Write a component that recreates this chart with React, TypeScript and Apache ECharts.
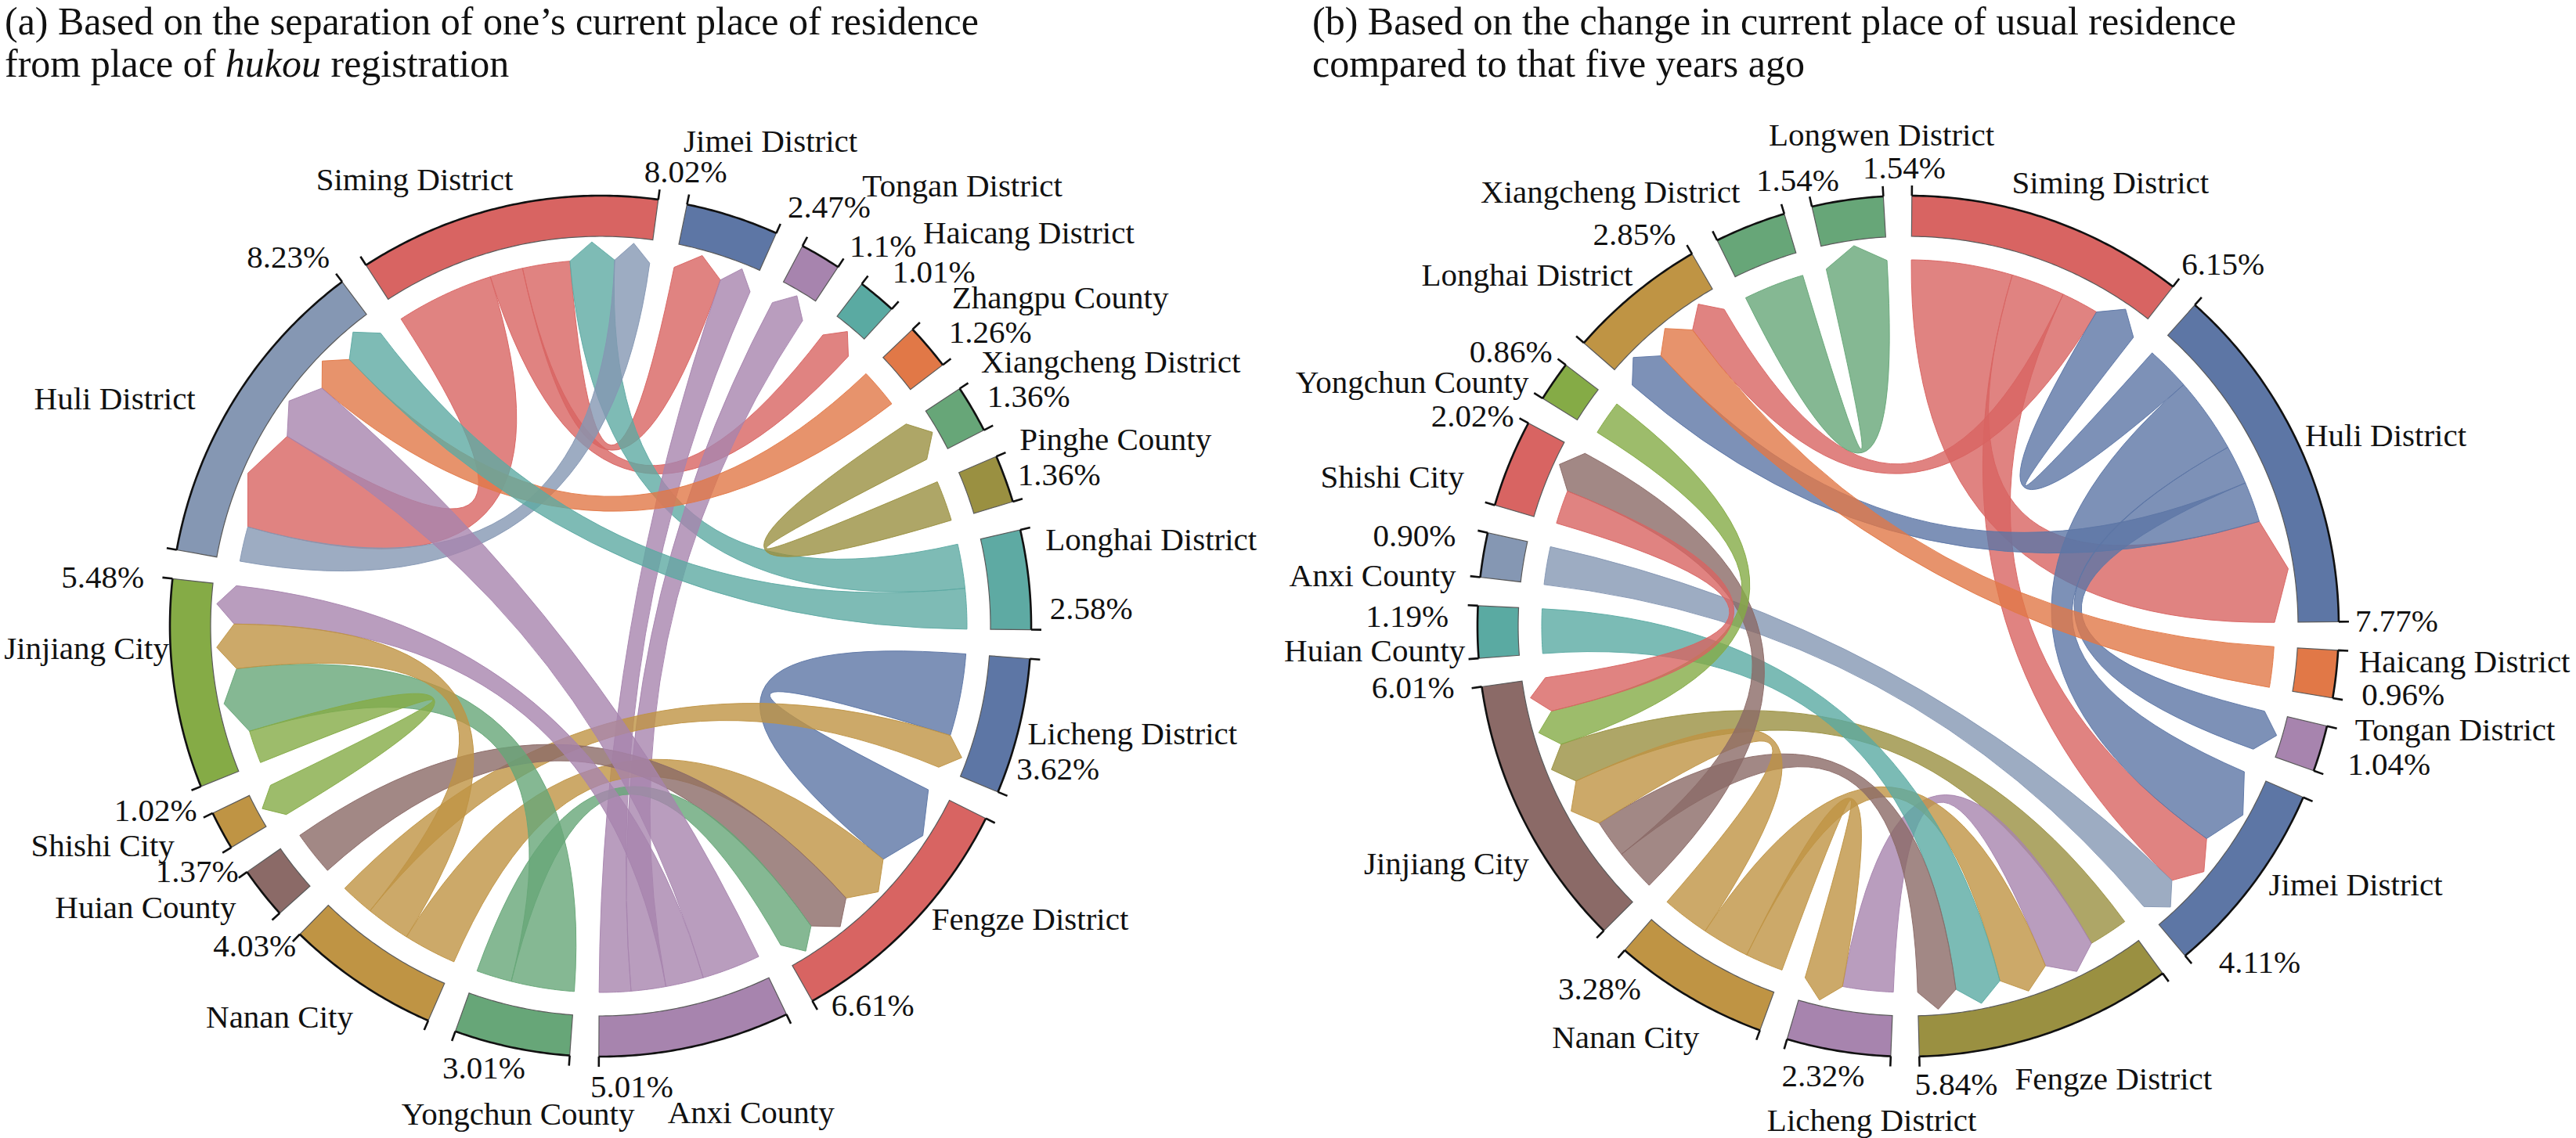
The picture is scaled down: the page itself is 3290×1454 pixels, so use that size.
import React, { useEffect, useRef } from "react";
import * as echarts from "echarts";

const FONT = "Liberation Serif, Times New Roman, Times, serif";

// ---------------- Panel (a) data ----------------
const A_TITLE = [
  "(a) Based on the separation of one\u2019s current place of residence",
  "from place of {i|hukou} registration",
];
const A_NODES = [
  "Siming District", "Jimei District", "Tongan District", "Haicang District", "Zhangpu County",
  "Xiangcheng District", "Pinghe County", "Longhai District", "Licheng District", "Fengze District",
  "Anxi County", "Yongchun County", "Nanan City", "Huian County", "Shishi City", "Jinjiang City", "Huli District",
];
const A_PCT = [
  "8.02%", "2.47%", "1.1%", "1.01%", "1.26%", "1.36%", "1.36%", "2.58%", "3.62%", "6.61%",
  "5.01%", "3.01%", "4.03%", "1.37%", "1.02%", "5.48%", "8.23%",
];
const A_COLORS = [
  "#d86462", "#5d76a5", "#a784ae", "#5aaaa2", "#e17847", "#67a678", "#9a9041", "#5eaaa3", "#5d76a5",
  "#d86462", "#a784ae", "#67a678", "#bf9444", "#8b6a67", "#bf9444", "#85ab46", "#8597b3",
];
// [source, target, value]
const A_LINKS = [
  [0, 16, 15.5], // 0 Siming -> Huli
  [0, 3, 5.2], // 1 Siming -> Haicang
  [0, 1, 7.5], // 2 Siming -> Jimei
  [7, 0, 7.0], // 3 Longhai -> Siming
  [16, 0, 5.5], // 4 Huli -> Siming
  [10, 1, 5.0], // 5 Anxi -> Jimei
  [10, 2, 5.5], // 6 Anxi -> Tongan
  [4, 16, 6.2], // 7 Zhangpu -> Huli
  [6, 5, 6.4], // 8 Pinghe -> Xiangcheng
  [7, 16, 6.4], // 9 Longhai -> Huli
  [8, 9, 13.0], // 10 Licheng -> Fengze
  [12, 8, 5.3], // 11 Nanan -> Licheng
  [12, 9, 8.4], // 12 Nanan -> Fengze
  [13, 9, 7.0], // 13 Huian -> Fengze
  [11, 9, 5.6], // 14 Yongchun -> Fengze
  [10, 16, 9.3], // 15 Anxi -> Huli
  [10, 15, 6.0], // 16 Anxi -> Jinjiang
  [11, 15, 10.0], // 17 Yongchun -> Jinjiang
  [12, 15, 7.0], // 18 Nanan -> Jinjiang
  [15, 14, 5.2], // 19 Jinjiang -> Shishi
];
// clockwise order of link ends around each node
const A_ORDER = [
  [0, 1, 2, 3, 4], [2, 5], [6], [1], [7], [8], [8], [3, 9], [10, 11], [10, 12, 13, 14],
  [15, 16, 6, 5], [17, 14], [12, 18, 11], [13], [19], [19, 17, 18, 16], [4, 0, 15, 7, 9],
];

// ---------------- Panel (b) data ----------------
const B_TITLE = [
  "(b) Based on the change in current place of usual residence",
  "compared to that five years ago",
];
const B_NODES = [
  "Siming District", "Huli District", "Haicang District", "Tongan District", "Jimei District",
  "Fengze District", "Licheng District", "Nanan City", "Jinjiang City", "Huian County", "Anxi County",
  "Shishi City", "Yongchun County", "Longhai District", "Xiangcheng District", "Longwen District",
];
const B_PCT = [
  "6.15%", "7.77%", "0.96%", "1.04%", "4.11%", "5.84%", "2.32%", "3.28%", "6.01%", "1.19%", "0.90%",
  "2.02%", "0.86%", "2.85%", "1.54%", "1.54%",
];
const B_COLORS = [
  "#d86462", "#5d76a5", "#e17847", "#a784ae", "#5d76a5", "#9a9041", "#a784ae", "#bf9444", "#8b6a67",
  "#5aaaa2", "#8597b3", "#d86462", "#85ab46", "#bf9444", "#67a678", "#67a678",
];
const B_LINKS = [
  [0, 1, 16.0], // 0 Siming -> Huli
  [0, 4, 8.5], // 1 Siming -> Jimei
  [0, 13, 5.9], // 2 Siming -> Longhai
  [1, 0, 7.0], // 3 Huli -> Siming
  [1, 4, 12.0], // 4 Huli -> Jimei
  [1, 3, 6.2], // 5 Huli -> Tongan
  [1, 13, 6.4], // 6 Huli -> Longhai
  [2, 13, 6.4], // 7 Haicang -> Longhai
  [10, 4, 6.0], // 8 Anxi -> Jimei
  [5, 8, 6.2], // 9 Fengze -> Jinjiang
  [6, 5, 8.0], // 10 Licheng -> Fengze
  [7, 5, 7.5], // 11 Nanan -> Fengze
  [9, 5, 7.0], // 12 Huian -> Fengze
  [8, 5, 6.0], // 13 Jinjiang -> Fengze
  [7, 6, 6.0], // 14 Nanan -> Licheng
  [7, 8, 7.5], // 15 Nanan -> Jinjiang
  [8, 11, 6.5], // 16 Jinjiang -> Shishi
  [12, 8, 5.4], // 17 Yongchun -> Jinjiang
  [11, 8, 5.3], // 18 Shishi -> Jinjiang
  [14, 15, 9.6], // 19 Xiangcheng -> Longwen
];
const B_ORDER = [
  [0, 1, 2, 3], [3, 4, 5, 6, 0], [7], [5], [4, 1, 8], [9, 10, 11, 12, 13], [10, 14], [14, 11, 15],
  [16, 13, 15, 9, 17, 18], [12], [8], [18, 16], [17], [6, 7, 2], [19], [19],
];

// ---------------- layout (positions, not data) ----------------
// [nameAngle, nameRadius, pctAngle, pctRadius]
const A_LABEL_POS = [
  [337.4, 618, 10.6, 591], [19.3, 657, 28.6, 610], [39.4, 728, 36.6, 605], [47.4, 743, 43.2, 622],
  [54.4, 722, 52.9, 624], [62.6, 734, 61.7, 621], [70, 700, 71.7, 617], [81, 712, 87.9, 627],
  [101.4, 693, 107.3, 612], [124.3, 664, 144.3, 596], [162.8, 650, 176.1, 589], [189.6, 632, 194.8, 583],
  [219.4, 646, 227.3, 601], [238.3, 683, 238.7, 603], [246.2, 695, 247.5, 615], [267.6, 657, 275.7, 639],
  [295.1, 685, 319.8, 618],
];
const B_LABEL_POS = [
  [24.5, 623, 41, 613], [68.2, 657, 89.4, 624], [93.6, 712, 97.8, 638], [100.7, 711, 106, 639],
  [120, 660, 133.7, 621], [155.6, 635, 174, 588], [184.2, 633, 190.7, 584], [214.5, 637, 220.4, 608],
  [242.8, 663, 263.0, 637], [267.4, 682, 271.2, 640], [275.4, 687, 280.4, 641], [286.2, 686, 295.8, 618],
  [296.2, 706, 304.7, 617], [312.7, 662, 325.1, 611], [325.6, 673, 346.1, 587], [356.9, 629, 359.5, 586],
];

const R_OUT = 550;
const R_IN = 498;
const R_LINK = 468;
const TIP = 23;
const TICK = 13;
const LABEL_SIZE = 41;
const TITLE_SIZE = 50;

function rgba(hex: string, a: number) {
  const h = hex.replace("#", "");
  const r = parseInt(h.slice(0, 2), 16);
  const g = parseInt(h.slice(2, 4), 16);
  const b = parseInt(h.slice(4, 6), 16);
  return `rgba(${r},${g},${b},${a})`;
}

function layoutChord(n: number, links: number[][], order: number[][], startDeg: number, gapDeg: number) {
  const totals = order.map((l) => l.reduce((s, li) => s + links[li][2], 0));
  const sum = totals.reduce((a, b) => a + b, 0);
  const k = (360 - n * gapDeg) / sum;
  const spans: number[][] = [];
  const src: number[][] = links.map(() => [0, 0]);
  const tgt: number[][] = links.map(() => [0, 0]);
  let a = startDeg;
  for (let i = 0; i < n; i++) {
    let cur = a;
    for (const li of order[i]) {
      const w = links[li][2] * k;
      if (links[li][0] === i) src[li] = [cur, cur + w];
      else tgt[li] = [cur, cur + w];
      cur += w;
    }
    spans.push([a, cur]);
    a = cur + gapDeg;
  }
  return { spans, src, tgt };
}

function pt(api: any, r: number, deg: number): number[] {
  const d = ((deg % 360) + 360) % 360;
  return api.coord([r, d]);
}
function f(p: number[]) {
  return p[0].toFixed(2) + " " + p[1].toFixed(2);
}
function arcPath(api: any, r: number, a0: number, a1: number, move: boolean) {
  const n = Math.max(2, Math.ceil(Math.abs(a1 - a0) / 0.5));
  let s = "";
  for (let j = 0; j <= n; j++) {
    const p = pt(api, r, a0 + ((a1 - a0) * j) / n);
    s += (j === 0 && move ? "M " : "L ") + f(p) + " ";
  }
  return s;
}

type Panel = {
  nodes: string[];
  pct: string[];
  colors: string[];
  links: number[][];
  order: number[][];
  labelPos: number[][];
  startDeg: number;
  gapDeg: number;
};

function panelSeries(p: Panel, polarIndex: number) {
  const lay = layoutChord(p.nodes.length, p.links, p.order, p.startDeg, p.gapDeg);
  const ribbons = {
    type: "custom",
    coordinateSystem: "polar",
    polarIndex,
    silent: true,
    z: 2,
    data: p.links.map((_, i) => [0, i]),
    renderItem: (params: any, api: any) => {
      const i = params.dataIndex;
      const [s0, s1] = lay.src[i];
      const [t0, t1] = lay.tgt[i];
      const col = p.colors[p.links[i][0]];
      const c = api.coord([0, 0]);
      let d = arcPath(api, R_LINK, s0, s1, true);
      d +=
        "Q " + f(c) + " " + f(pt(api, R_LINK, t0)) +
        " L " + f(pt(api, R_LINK + TIP, (t0 + t1) / 2)) +
        " L " + f(pt(api, R_LINK, t1)) +
        " Q " + f(c) + " " + f(pt(api, R_LINK, s0)) + " Z";
      return {
        type: "path",
        shape: { pathData: d },
        style: { fill: rgba(col, 0.8), stroke: rgba(col, 0.95), lineWidth: 1 },
      };
    },
  };
  const arcs = {
    type: "custom",
    coordinateSystem: "polar",
    polarIndex,
    silent: true,
    z: 3,
    data: p.nodes.map((_, i) => [R_OUT, i]),
    renderItem: (params: any, api: any) => {
      const i = params.dataIndex;
      const [a0, a1] = lay.spans[i];
      const sector = arcPath(api, R_OUT, a0, a1, true) + arcPath(api, R_IN, a1, a0, false) + "Z";
      const outer =
        arcPath(api, R_OUT, a0, a1, true) +
        "M " + f(pt(api, R_OUT, a0)) + " L " + f(pt(api, R_OUT + TICK, a0)) +
        " M " + f(pt(api, R_OUT, a1)) + " L " + f(pt(api, R_OUT + TICK, a1));
      return {
        type: "group",
        children: [
          { type: "path", shape: { pathData: sector }, style: { fill: p.colors[i], stroke: "#5a5a5a", lineWidth: 1.2 } },
          { type: "path", shape: { pathData: outer }, style: { fill: "none", stroke: "#111", lineWidth: 2.6 } },
        ],
      };
    },
  };
  const labels = {
    type: "custom",
    coordinateSystem: "polar",
    polarIndex,
    silent: true,
    z: 4,
    data: p.nodes.map((_, i) => [R_OUT, i]),
    renderItem: (params: any, api: any) => {
      const i = params.dataIndex;
      const lp = p.labelPos[i];
      const pn = pt(api, lp[1], lp[0]);
      const pp = pt(api, lp[3], lp[2]);
      const st = { fill: "#111", fontSize: LABEL_SIZE, fontFamily: FONT, align: "center", verticalAlign: "middle" };
      return {
        type: "group",
        children: [
          { type: "text", x: pn[0], y: pn[1], style: { ...st, text: p.nodes[i] } },
          { type: "text", x: pp[0], y: pp[1], style: { ...st, text: p.pct[i] } },
        ],
      };
    },
  };
  return [ribbons, arcs, labels];
}

export default function App() {
  const ref = useRef<HTMLDivElement>(null);
  useEffect(() => {
    if (!ref.current) return;
    const chart = echarts.init(ref.current, undefined, { renderer: "svg" });
    const panelA: Panel = {
      nodes: A_NODES, pct: A_PCT, colors: A_COLORS, links: A_LINKS, order: A_ORDER,
      labelPos: A_LABEL_POS, startDeg: -33, gapDeg: 3.88,
    };
    const panelB: Panel = {
      nodes: B_NODES, pct: B_PCT, colors: B_COLORS, links: B_LINKS, order: B_ORDER,
      labelPos: B_LABEL_POS, startDeg: 0.5, gapDeg: 3.8,
    };
    const titleRich = {
      i: { fontStyle: "italic", fontSize: TITLE_SIZE, fontFamily: FONT, lineHeight: 54, fill: "#111" },
    };
    chart.setOption({
      animation: false,
      backgroundColor: "#ffffff",
      polar: [
        { center: [767, 800], radius: R_OUT },
        { center: [2437, 800], radius: R_OUT },
      ],
      angleAxis: [
        { polarIndex: 0, type: "value", min: 0, max: 360, startAngle: 90, clockwise: true, show: false },
        { polarIndex: 1, type: "value", min: 0, max: 360, startAngle: 90, clockwise: true, show: false },
      ],
      radiusAxis: [
        { polarIndex: 0, type: "value", min: 0, max: R_OUT, show: false },
        { polarIndex: 1, type: "value", min: 0, max: R_OUT, show: false },
      ],
      graphic: [
        {
          type: "text", left: 6, top: 0,
          style: { text: A_TITLE.join("\n"), fontSize: TITLE_SIZE, fontFamily: FONT, fill: "#111", lineHeight: 54, rich: titleRich },
        },
        {
          type: "text", left: 1676, top: 0,
          style: { text: B_TITLE.join("\n"), fontSize: TITLE_SIZE, fontFamily: FONT, fill: "#111", lineHeight: 54 },
        },
      ],
      series: [...panelSeries(panelA, 0), ...panelSeries(panelB, 1)],
    });
    return () => chart.dispose();
  }, []);
  return (
    <div
      ref={ref}
      style={{ position: "fixed", left: 0, top: 0, width: 3290, height: 1454, background: "#fff" }}
    />
  );
}
